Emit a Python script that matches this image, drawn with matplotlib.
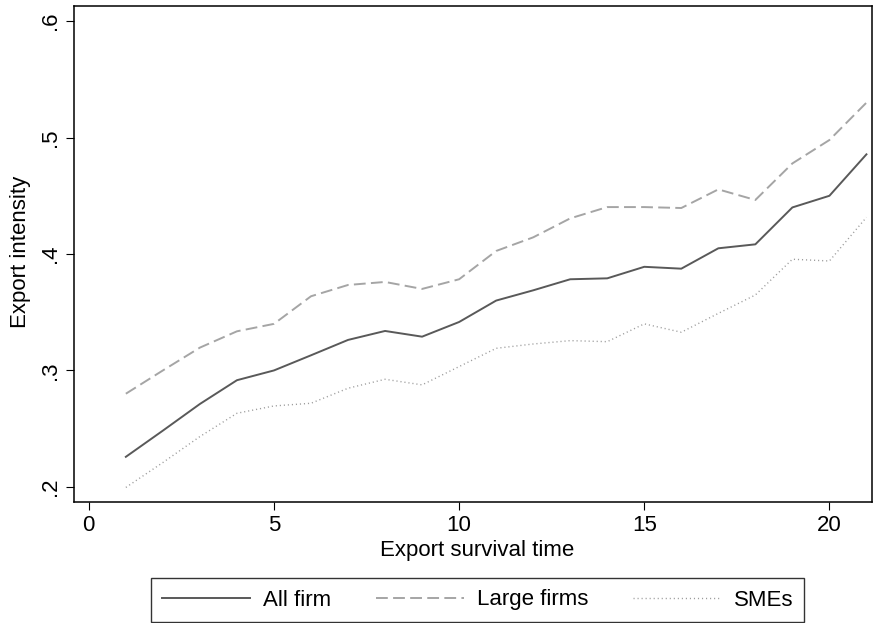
import matplotlib
matplotlib.use("Agg")
import matplotlib.pyplot as plt

plt.rcParams['font.family'] = ['Liberation Sans', 'DejaVu Sans']
plt.rcParams['lines.scale_dashes'] = False

# Data
survival_time = list(range(1, 22))
all_firm = [0.2258, 0.2483, 0.2712, 0.2916, 0.3000, 0.3130, 0.3262, 0.3339, 0.3290, 0.3416,
            0.3600, 0.3688, 0.3783, 0.3791, 0.3890, 0.3874, 0.4049, 0.4083, 0.4400, 0.4500, 0.4856]
large_firms = [0.2800, 0.3000, 0.3196, 0.3336, 0.3400, 0.3637, 0.3734, 0.3760, 0.3700, 0.3783,
               0.4026, 0.4143, 0.4306, 0.4403, 0.4403, 0.4395, 0.4555, 0.4464, 0.4778, 0.4979, 0.5300]
smes = [0.1995, 0.2209, 0.2432, 0.2632, 0.2695, 0.2718, 0.2847, 0.2924, 0.2876, 0.3033,
        0.3190, 0.3227, 0.3256, 0.3247, 0.3400, 0.3328, 0.3490, 0.3648, 0.3955, 0.3940, 0.4315]

x_ticks = [0, 5, 10, 15, 20]
y_ticks = [0.2, 0.3, 0.4, 0.5, 0.6]
y_tick_labels = ['.2', '.3', '.4', '.5', '.6']
series_labels = ['All firm', 'Large firms', 'SMEs']

W, H = 873, 623
fig = plt.figure(figsize=(W / 100, H / 100), dpi=100)
ax = fig.add_axes([74 / W, 1 - 502 / H, (872 - 74) / W, (502 - 6) / H])

FS = 16
ax.plot(survival_time, all_firm, color='#595959', lw=1.4, ls='-', label=series_labels[0])
ax.plot(survival_time, large_firms, color='#a5a5a5', lw=1.4, ls=(0, (8.5, 3.8)), label=series_labels[1])
ax.plot(survival_time, smes, color='#9c9c9c', lw=1.0, ls=(0, (0.8, 2.1)), label=series_labels[2])

ax.set_xlim(-0.40, 21.15)
ax.set_ylim(0.187, 0.613)
ax.set_xticks(x_ticks)
ax.set_xticklabels([str(t) for t in x_ticks], fontsize=FS)
ax.set_yticks(y_ticks)
ax.set_yticklabels(y_tick_labels, fontsize=FS, rotation=90, va='center')
ax.tick_params(axis='both', direction='out', length=6, width=0.8, color='black', pad=3.5)

for s in ax.spines.values():
    s.set_linewidth(1.1)
    s.set_color('black')

ax.set_xlabel('Export survival time', fontsize=FS)
ax.xaxis.set_label_coords((477 - 74) / 798, (502 - 540) / 496)
ax.set_ylabel('Export intensity', fontsize=FS)
ax.yaxis.set_label_coords((31 - 74) / 798, (502 - 252) / 496)

leg = fig.legend(loc='center', bbox_to_anchor=(477.5 / W, 1 - 600 / H), ncol=3,
                 fontsize=FS, frameon=True, fancybox=False, shadow=False,
                 handlelength=3.96, handletextpad=0.59, columnspacing=2.0,
                 borderpad=0.5, borderaxespad=0)
leg.get_frame().set_edgecolor('black')
leg.get_frame().set_linewidth(1.0)

fig.savefig('out.png', dpi=100)
